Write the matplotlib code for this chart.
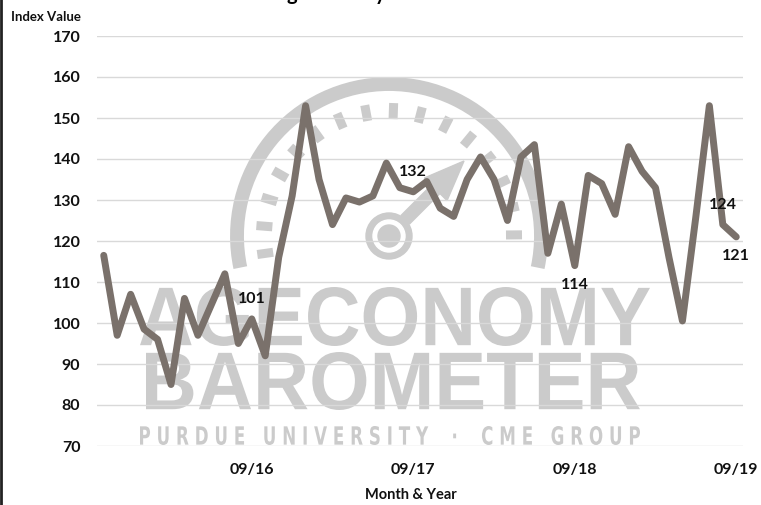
import numpy as np
import matplotlib
matplotlib.use("Agg")
import matplotlib.pyplot as plt
from matplotlib.textpath import TextPath
from matplotlib.font_manager import FontProperties
from matplotlib.patches import PathPatch, Circle, Arc, Polygon
from matplotlib.transforms import Affine2D

# monthly index, 10/15 .. 09/19
values = [116.5, 97, 107, 98.5, 96, 85, 106, 97, 104.5, 112, 95, 101,
          92, 116, 131, 153, 135, 124, 130.5, 129.5, 131, 139, 133, 132,
          134.5, 128, 126, 135, 140.5, 135, 125, 140.5, 143.5, 117, 129, 114,
          136, 134, 126.5, 143, 137, 133, 116, 100.5, 126, 153, 124, 121]
tick_pos = [11, 23, 35, 47]
tick_labels = ["09/16", "09/17", "09/18", "09/19"]
# labelled points: index, text, above(+1)/below(-1)
labelled = [(11, "101", 1), (23, "132", 1), (35, "114", -1), (46, "124", 1), (47, "121", -1)]

W, H = 761, 505
line_col = "#7a716b"
wm_col = "#cbcbcb"
font = "Lato"

fig = plt.figure(figsize=(W / 100, H / 100), dpi=100)

# background layer for the watermark logo, in pixel coords (y up)
bg = fig.add_axes([0, 0, 1, 1], zorder=0)
bg.set_xlim(0, W)
bg.set_ylim(0, H)
bg.axis("off")


def Y(y):
    return H - y


def fit_text(s, x0, y0, x1, y1, family="Liberation Sans", weight="bold"):
    tp = TextPath((0, 0), s, size=10, prop=FontProperties(family=family, weight=weight))
    ext = tp.get_extents()
    sx = (x1 - x0) / ext.width
    sy = (y1 - y0) / ext.height
    tr = Affine2D().translate(-ext.x0, -ext.y0).scale(sx, sy).translate(x0, Y(y1))
    bg.add_patch(PathPatch(tr.transform_path(tp), fc=wm_col, ec="none"))


fit_text("AGECONOMY", 140, 287, 650, 346)
fit_text("BAROMETER", 146, 352, 640, 410)
fit_text("P U R D U E   U N I V E R S I T Y    \u00b7    C M E   G R O U P", 140, 426, 640, 445,
         family="DejaVu Sans")

# gauge
cx, cy = 389, Y(236)
bg.add_patch(Arc((cx, cy), 2 * 152, 2 * 152, theta1=-12, theta2=192, lw=10, color=wm_col))
for a in np.arange(188, -12, -12.5):
    r0, r1 = 117, 133
    t = np.radians(a)
    bg.plot([cx + r0 * np.cos(t), cx + r1 * np.cos(t)], [cy + r0 * np.sin(t), cy + r1 * np.sin(t)],
            color=wm_col, lw=6.5, solid_capstyle="butt")
bg.add_patch(Circle((cx, cy), 23, color=wm_col))
bg.add_patch(Circle((cx, cy), 16, color="white"))
bg.add_patch(Circle((cx, cy), 11, color=wm_col))
tip = np.array([464, Y(161)])
ang = np.arctan2(tip[1] - cy, tip[0] - cx)
d = np.array([np.cos(ang), np.sin(ang)])
n = np.array([-d[1], d[0]])
base = tip - d * 40
start = np.array([cx, cy]) + d * 23
bg.add_patch(Polygon([start + n * 6, base + n * 6, base + n * 16, tip, base - n * 16, base - n * 6, start - n * 6],
                     color=wm_col))

# left border
bg.plot([1, 1], [0, H], color="#222222", lw=2)

# title, almost entirely off the top edge
fig.text(273 / W, (H + 0.5) / H, "Ag Economy Barometer", fontsize=14.5, fontweight="bold",
         family=font, ha="left", va="baseline")

ax = fig.add_axes([97 / W, (H - 446) / H, 646 / W, 410 / H], zorder=1)
ax.patch.set_alpha(0)
x = np.arange(len(values))
ax.plot(x, values, color=line_col, lw=5, solid_joinstyle="round", solid_capstyle="round", zorder=3)
ax.set_xlim(-0.5, len(values) - 0.5)
ax.set_ylim(70, 170)
ax.set_yticks(np.arange(70, 171, 10))
ax.set_xticks(tick_pos)
ax.set_xticklabels(tick_labels)
ax.grid(axis="y", color="#d9d9d9", lw=1)
ax.grid(axis="x", visible=False)
for s in ax.spines.values():
    s.set_visible(False)
ax.tick_params(axis="y", length=0, pad=12)
ax.tick_params(axis="x", length=0, pad=12)
for lab in ax.get_xticklabels() + ax.get_yticklabels():
    lab.set_fontfamily(font)
    lab.set_fontweight("bold")
    lab.set_fontsize(11.5)
    lab.set_color("#111111")

for i, txt, side in labelled:
    ax.annotate(txt, (i, values[i]), xytext=(0, 14 * side), textcoords="offset points",
                ha="center", va="center", fontsize=11.5, fontweight="bold", family=font,
                color="#111111", zorder=4)

fig.text(11 / W, Y(17) / H, "Index Value", fontsize=9.5, fontweight="bold", family=font,
         ha="left", va="center", color="#111111")
fig.text(411 / W, Y(495) / H, "Month & Year", fontsize=10.5, fontweight="bold", family=font,
         ha="center", va="center", color="#111111")

fig.savefig("out.png", dpi=100)
